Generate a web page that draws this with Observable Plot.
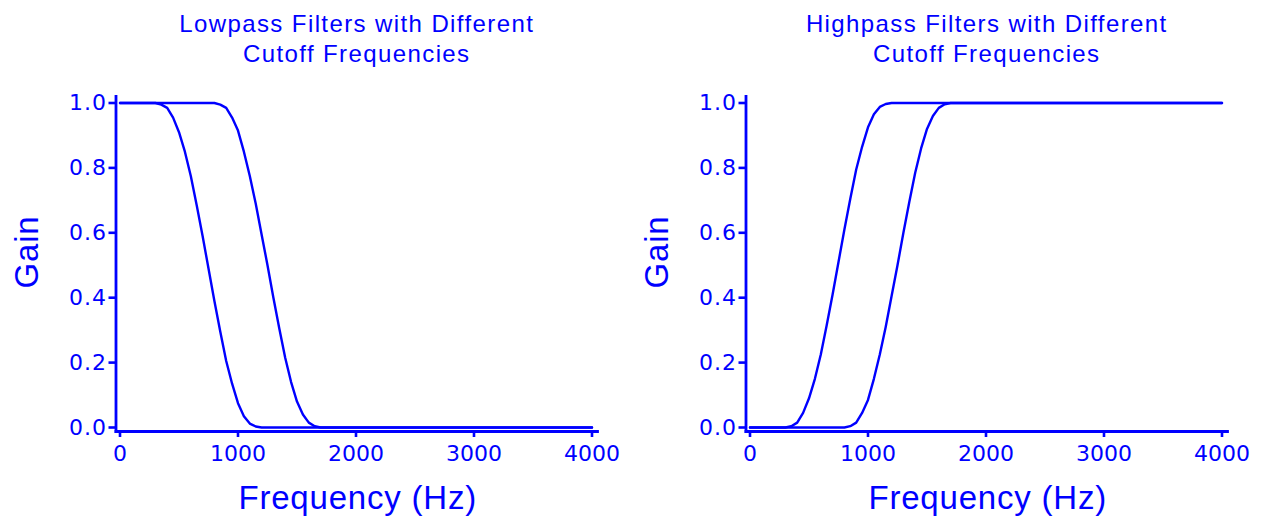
<!DOCTYPE html>
<html>
<head>
<meta charset="utf-8">
<script src="https://cdn.jsdelivr.net/npm/d3@7"></script>
<script src="https://cdn.jsdelivr.net/npm/@observablehq/plot@0.6"></script>
<style>
  html, body { margin: 0; padding: 0; background: #ffffff; }
  #wrap { position: relative; width: 1262px; height: 521px; overflow: hidden; }
  #wrap > svg { position: absolute; top: 0; }
</style>
</head>
<body>
<div id="wrap"></div>
<script>
// ---- data ----
const panelTitles = ["Lowpass Filters with Different\nCutoff Frequencies", "Highpass Filters with Different\nCutoff Frequencies"];
const xLabel = "Frequency (Hz)";
const yLabel = "Gain";
const xTicks = [0, 1000, 2000, 3000, 4000];
const yTicks = [0, 0.2, 0.4, 0.6, 0.8, 1.0];

const lowFreqA = [0, 300, 350, 400, 450, 500, 550, 600, 650, 700, 750, 800, 850, 900, 950, 1000, 1050, 1100, 1150, 1200, 4000];
const lowGainA = [1, 1, 0.995, 0.985, 0.955, 0.91, 0.85, 0.775, 0.685, 0.59, 0.49, 0.39, 0.295, 0.205, 0.135, 0.075, 0.035, 0.012, 0.003, 0, 0];
const lowFreqB = [0, 800, 850, 900, 950, 1000, 1050, 1100, 1150, 1200, 1250, 1300, 1350, 1400, 1450, 1500, 1550, 1600, 1650, 1700, 4000];
const lowGainB = [1, 1, 0.995, 0.985, 0.955, 0.915, 0.85, 0.775, 0.69, 0.595, 0.5, 0.4, 0.305, 0.215, 0.14, 0.08, 0.04, 0.015, 0.004, 0, 0];

const highFreqA = [0, 300, 350, 400, 450, 500, 550, 600, 650, 700, 750, 800, 850, 900, 950, 1000, 1050, 1100, 1150, 1200, 4000];
const highGainA = [0, 0, 0.004, 0.015, 0.045, 0.09, 0.15, 0.225, 0.315, 0.41, 0.51, 0.61, 0.705, 0.795, 0.865, 0.925, 0.965, 0.988, 0.997, 1, 1];
const highFreqB = [0, 800, 850, 900, 950, 1000, 1050, 1100, 1150, 1200, 1250, 1300, 1350, 1400, 1450, 1500, 1550, 1600, 1650, 1700, 4000];
const highGainB = [0, 0, 0.004, 0.015, 0.045, 0.085, 0.15, 0.225, 0.31, 0.405, 0.5, 0.6, 0.695, 0.785, 0.86, 0.92, 0.96, 0.985, 0.996, 1, 1];

const BLUE = "#0000ff";
const FONT = "'Liberation Sans', Arial, Helvetica, sans-serif";
const TICKFONT = "'DejaVu Sans', 'Liberation Sans', Arial, sans-serif";

function toRows(freq, gain, name) {
  return freq.map((f, i) => ({freq: f, gain: gain[i], series: name}));
}

function panel(title, rows) {
  const svg = Plot.plot({
    width: 631,
    height: 521,
    marginLeft: 115.5,
    marginRight: 34,
    marginTop: 96,
    marginBottom: 90,
    style: {fontFamily: FONT, color: BLUE, background: "transparent", overflow: "visible"},
    x: {domain: [0, 4000], insetLeft: 4, insetRight: 5.5},
    y: {domain: [0, 1], insetTop: 6.5, insetBottom: 4},
    marks: [
      Plot.frame({anchor: "left", stroke: BLUE, strokeWidth: 2.8}),
      Plot.frame({anchor: "bottom", stroke: BLUE, strokeWidth: 2.8}),
      Plot.axisX({ticks: xTicks, tickSize: 6, tickPadding: 8, tickFormat: d => String(d),
                  label: null, fontSize: 22, strokeWidth: 2.6, stroke: BLUE, fill: BLUE}),
      Plot.axisY({ticks: yTicks, tickSize: 7, tickPadding: 2, tickFormat: d3.format(".1f"),
                  label: null, fontSize: 22, strokeWidth: 2.6, stroke: BLUE, fill: BLUE}),
      Plot.line(rows, {x: "freq", y: "gain", z: "series", stroke: BLUE, strokeWidth: 2.4}),
      Plot.text([title], {frameAnchor: "top", lineAnchor: "middle", textAnchor: "middle", dy: -59, fontSize: 24, lineHeight: 1.25, fill: BLUE}),
      Plot.text([yLabel], {frameAnchor: "left", lineAnchor: "middle", textAnchor: "middle", rotate: -90, dx: -89, dy: -12, fontSize: 33, fill: BLUE}),
      Plot.text([xLabel], {frameAnchor: "bottom", lineAnchor: "middle", textAnchor: "middle", dx: 1, dy: 67, fontSize: 33, fill: BLUE})
    ]
  });
  const s = d3.select(svg);
  s.selectAll('g[aria-label="x-axis tick label"]').style("font-family", TICKFONT);
  s.selectAll('g[aria-label="y-axis tick label"]').style("font-family", TICKFONT);
  s.selectAll('g[aria-label="y-axis tick label"] text').style("letter-spacing", "1px");
  s.selectAll("text").each(function () {
    const t = this.textContent;
    if (t.indexOf("Filters") >= 0 || t.indexOf("Cutoff") >= 0) d3.select(this).style("letter-spacing", "1.4px");
    if (t === xLabel || t === yLabel) d3.select(this).style("letter-spacing", "0.8px");
  });
  return svg;
}

const wrap = document.getElementById("wrap");
const left = panel(panelTitles[0], [...toRows(lowFreqA, lowGainA, "A"), ...toRows(lowFreqB, lowGainB, "B")]);
left.style.left = "0px";
const right = panel(panelTitles[1], [...toRows(highFreqA, highGainA, "A"), ...toRows(highFreqB, highGainB, "B")]);
right.style.left = "630px";
wrap.appendChild(left);
wrap.appendChild(right);
</script>
</body>
</html>
